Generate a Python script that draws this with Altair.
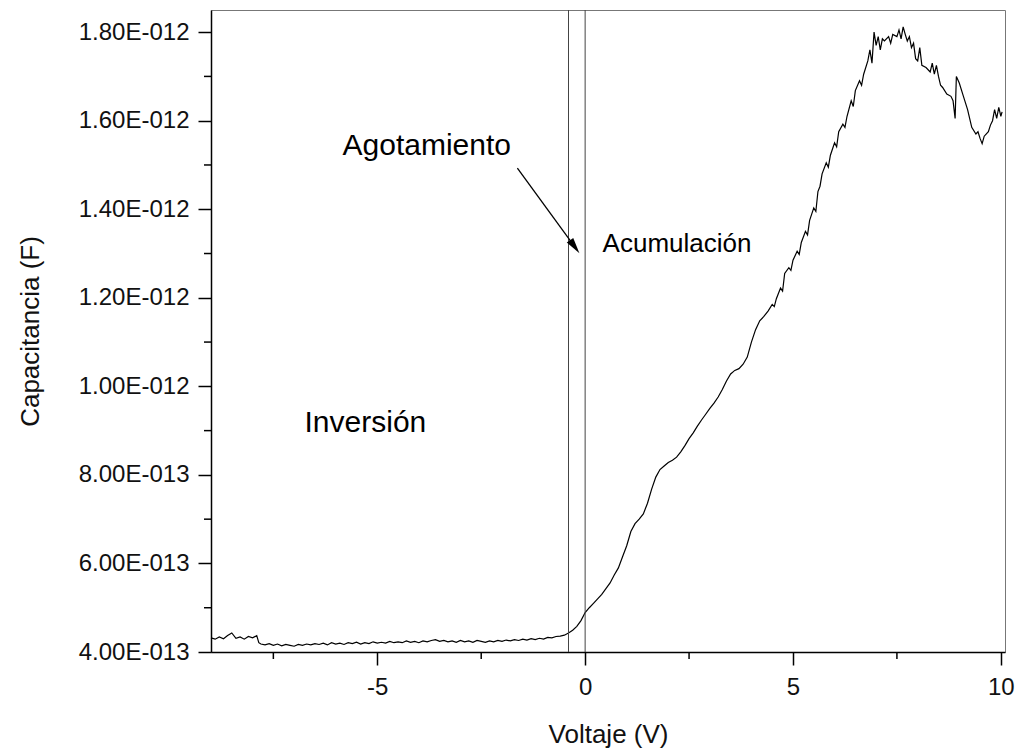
import altair as alt
import pandas as pd

# Capacitance-voltage curve (capacitance in pF, i.e. x1e-12 F)
voltage = [
    -9.0, -8.9, -8.8, -8.7, -8.6, -8.5, -8.4, -8.3, -8.2, -8.1, -8.0, -7.9,
    -7.85, -7.8, -7.7, -7.6, -7.5, -7.4, -7.3, -7.2, -7.1, -7.0, -6.9, -6.8,
    -6.7, -6.6, -6.5, -6.4, -6.3, -6.2, -6.1, -6.0, -5.9, -5.8, -5.7, -5.6,
    -5.5, -5.4, -5.3, -5.2, -5.1, -5.0, -4.9, -4.8, -4.7, -4.6, -4.5, -4.4,
    -4.3, -4.2, -4.1, -4.0, -3.9, -3.8, -3.7, -3.6, -3.5, -3.4, -3.3, -3.2,
    -3.1, -3.0, -2.9, -2.8, -2.7, -2.6, -2.5, -2.4, -2.3, -2.2, -2.1, -2.0,
    -1.9, -1.8, -1.7, -1.6, -1.5, -1.4, -1.3, -1.2, -1.1, -1.0, -0.9, -0.8,
    -0.7, -0.6, -0.5, -0.4, -0.3, -0.2, -0.1,
    0.0, 0.1, 0.2, 0.3, 0.4, 0.5, 0.6, 0.7, 0.8, 0.9, 1.0, 1.1, 1.2, 1.3,
    1.4, 1.5, 1.6, 1.7, 1.8, 1.9, 2.0, 2.1, 2.2, 2.3, 2.4, 2.5, 2.6, 2.7,
    2.8, 2.9, 3.0, 3.1, 3.2, 3.3, 3.4, 3.5, 3.6, 3.7, 3.8, 3.9, 4.0, 4.1,
    4.2, 4.3, 4.4, 4.5, 4.55, 4.6, 4.7, 4.75, 4.8, 4.9, 4.95, 5.0, 5.1,
    5.15, 5.2, 5.3, 5.35, 5.4, 5.5, 5.55, 5.6, 5.65, 5.7, 5.8, 5.85, 5.9,
    6.0, 6.05, 6.1, 6.2, 6.25, 6.3, 6.4, 6.45, 6.5, 6.6, 6.65, 6.7, 6.8,
    6.85, 6.9, 6.95, 7.0, 7.05, 7.1, 7.15, 7.2, 7.3, 7.35, 7.4, 7.5, 7.55,
    7.6, 7.65, 7.7, 7.75, 7.8, 7.85, 7.9, 7.95, 8.0, 8.05, 8.1, 8.2, 8.3,
    8.35, 8.4, 8.45, 8.5, 8.55, 8.6, 8.7, 8.8, 8.85, 8.9, 8.93, 9.0, 9.1,
    9.2, 9.3, 9.4, 9.45, 9.5, 9.55, 9.6, 9.7, 9.75, 9.8, 9.85, 9.9, 9.95,
    10.0, 10.03,
]
capacitance_pF = [
    0.432, 0.429, 0.434, 0.430, 0.437, 0.443, 0.431, 0.434, 0.429, 0.435, 0.432, 0.437,
    0.421, 0.418, 0.416, 0.419, 0.415, 0.418, 0.414, 0.417, 0.415, 0.413, 0.417, 0.415,
    0.418, 0.416, 0.419, 0.417, 0.420, 0.416, 0.421, 0.418, 0.420, 0.417, 0.421, 0.419,
    0.422, 0.418, 0.421, 0.419, 0.423, 0.420, 0.422, 0.420, 0.424, 0.421, 0.423, 0.421,
    0.425, 0.422, 0.424, 0.421, 0.425, 0.423, 0.426, 0.428, 0.424, 0.426, 0.423, 0.425,
    0.422, 0.426, 0.423, 0.425, 0.422, 0.426, 0.424, 0.422, 0.425, 0.423, 0.426, 0.424,
    0.427, 0.425, 0.428, 0.426, 0.429, 0.427, 0.430, 0.428, 0.431, 0.429, 0.433, 0.432,
    0.435, 0.436, 0.438, 0.443, 0.449, 0.458, 0.471,
    0.489, 0.500, 0.510, 0.520, 0.530, 0.543, 0.556, 0.574, 0.590, 0.615, 0.640, 0.672, 0.690, 0.700,
    0.712, 0.736, 0.768, 0.795, 0.812, 0.820, 0.828, 0.833, 0.840, 0.852, 0.866, 0.882, 0.895, 0.910,
    0.924, 0.937, 0.950, 0.962, 0.976, 0.993, 1.012, 1.028, 1.036, 1.040, 1.050, 1.066, 1.100, 1.128,
    1.148, 1.158, 1.170, 1.185, 1.180, 1.198, 1.222, 1.215, 1.255, 1.268, 1.262, 1.285, 1.305,
    1.298, 1.325, 1.350, 1.342, 1.375, 1.403, 1.395, 1.440, 1.452, 1.480, 1.505, 1.495, 1.522,
    1.550, 1.541, 1.575, 1.592, 1.585, 1.610, 1.645, 1.632, 1.668, 1.690, 1.680, 1.705, 1.735,
    1.760, 1.730, 1.800, 1.770, 1.790, 1.760, 1.785, 1.780, 1.790, 1.775, 1.795, 1.790, 1.805,
    1.785, 1.812, 1.795, 1.780, 1.790, 1.765, 1.775, 1.740, 1.735, 1.765, 1.725, 1.720, 1.710,
    1.730, 1.705, 1.725, 1.700, 1.680, 1.675, 1.660, 1.655, 1.645, 1.605, 1.700, 1.685, 1.655,
    1.625, 1.585, 1.570, 1.575, 1.560, 1.548, 1.565, 1.575, 1.590, 1.600, 1.625, 1.605, 1.630,
    1.610, 1.620,
]

# Region boundaries (V)
boundaries = [-0.4, 0.0]

# Axis ticks
x_ticks = [-5, 0, 5, 10]
x_minor = [-7.5, -2.5, 2.5, 7.5]
y_ticks = [0.4, 0.6, 0.8, 1.0, 1.2, 1.4, 1.6, 1.8]
y_minor = [0.5, 0.7, 0.9, 1.1, 1.3, 1.5, 1.7]

# Annotations
labels = ["Agotamiento", "Inversión", "Acumulación"]
label_x = [-3.81, -6.75, 0.42]
label_y = [1.522, 0.897, 1.303]
label_align = ["center", "left", "left"]
label_size = [30, 30, 26]

arrow_start = (-1.63, 1.493)
arrow_head = (-0.279, 1.319)

FONT = "Liberation Sans"

df = pd.DataFrame({"V": voltage, "C": capacitance_pF})
xscale = alt.Scale(domain=[-9.0, 10.1], nice=False, zero=False)
yscale = alt.Scale(domain=[0.4, 1.85], nice=False, zero=False)

ylabel_expr = ("datum.value >= 0.999 ? format(datum.value, '.2f') + 'E-012' : "
               "format(datum.value * 10, '.2f') + 'E-013'")

curve = alt.Chart(df).mark_line(color="black", strokeWidth=1.2).encode(
    x=alt.X("V:Q", scale=xscale,
            axis=alt.Axis(values=x_ticks, title="Voltaje (V)", labelExpr="'' + datum.value")),
    y=alt.Y("C:Q", scale=yscale,
            axis=alt.Axis(values=y_ticks, title="Capacitancia (F)", labelExpr=ylabel_expr)),
)

vlines = alt.Chart(pd.DataFrame({"b": boundaries})).mark_rule(
    color="#444", strokeWidth=1
).encode(x=alt.X("b:Q", scale=xscale))

yminor = alt.Chart(pd.DataFrame({"m": y_minor})).mark_rule(
    color="black", strokeWidth=1.5
).encode(y=alt.Y("m:Q", scale=yscale), x=alt.value(-7), x2=alt.value(0))

xminor = alt.Chart(pd.DataFrame({"m": x_minor})).mark_rule(
    color="black", strokeWidth=1.5
).encode(x=alt.X("m:Q", scale=xscale), y=alt.value(642), y2=alt.value(649))

texts = []
for lab, lx, ly, la, ls in zip(labels, label_x, label_y, label_align, label_size):
    texts.append(
        alt.Chart(pd.DataFrame({"t": [lab], "x": [lx], "y": [ly]})).mark_text(
            font=FONT, fontSize=ls, align=la, baseline="alphabetic", color="black"
        ).encode(x=alt.X("x:Q", scale=xscale), y=alt.Y("y:Q", scale=yscale), text="t:N")
    )

arrow_df = pd.DataFrame({"x": [arrow_start[0]], "y": [arrow_start[1]],
                         "x2": [arrow_head[0]], "y2": [arrow_head[1]]})
arrow_line = alt.Chart(arrow_df).mark_rule(color="black", strokeWidth=1.3).encode(
    x=alt.X("x:Q", scale=xscale), y=alt.Y("y:Q", scale=yscale), x2="x2:Q", y2="y2:Q"
)
arrow_tip = alt.Chart(arrow_df).mark_point(
    shape="M 0 -1 L 0.4 0.6 L -0.4 0.6 Z", filled=True, color="black",
    size=400, angle=144, opacity=1
).encode(x=alt.X("x2:Q", scale=xscale), y=alt.Y("y2:Q", scale=yscale))

chart = alt.layer(curve, vlines, yminor, xminor, *texts, arrow_line, arrow_tip).properties(
    width=794, height=642,
    autosize=alt.AutoSizeParams(type="none"),
    padding={"left": 211, "top": 10, "right": 15, "bottom": 101},
    background="white",
).configure_view(
    stroke="#777", strokeWidth=1
).configure_axis(
    grid=False,
    domainColor="black", domainWidth=1.5,
    tickColor="black", tickWidth=1.5, tickSize=13,
    labelFont=FONT, labelFontSize=24, labelColor="#111",
    titleFont=FONT, titleFontSize=26, titleFontWeight="normal", titleColor="#111",
).configure_axisY(
    labelPadding=9, titlePadding=35,
).configure_axisX(
    labelPadding=10, titlePadding=22, labelFlush=False,
)

chart.save("out.html", embed_options={"renderer": "svg", "actions": False})
